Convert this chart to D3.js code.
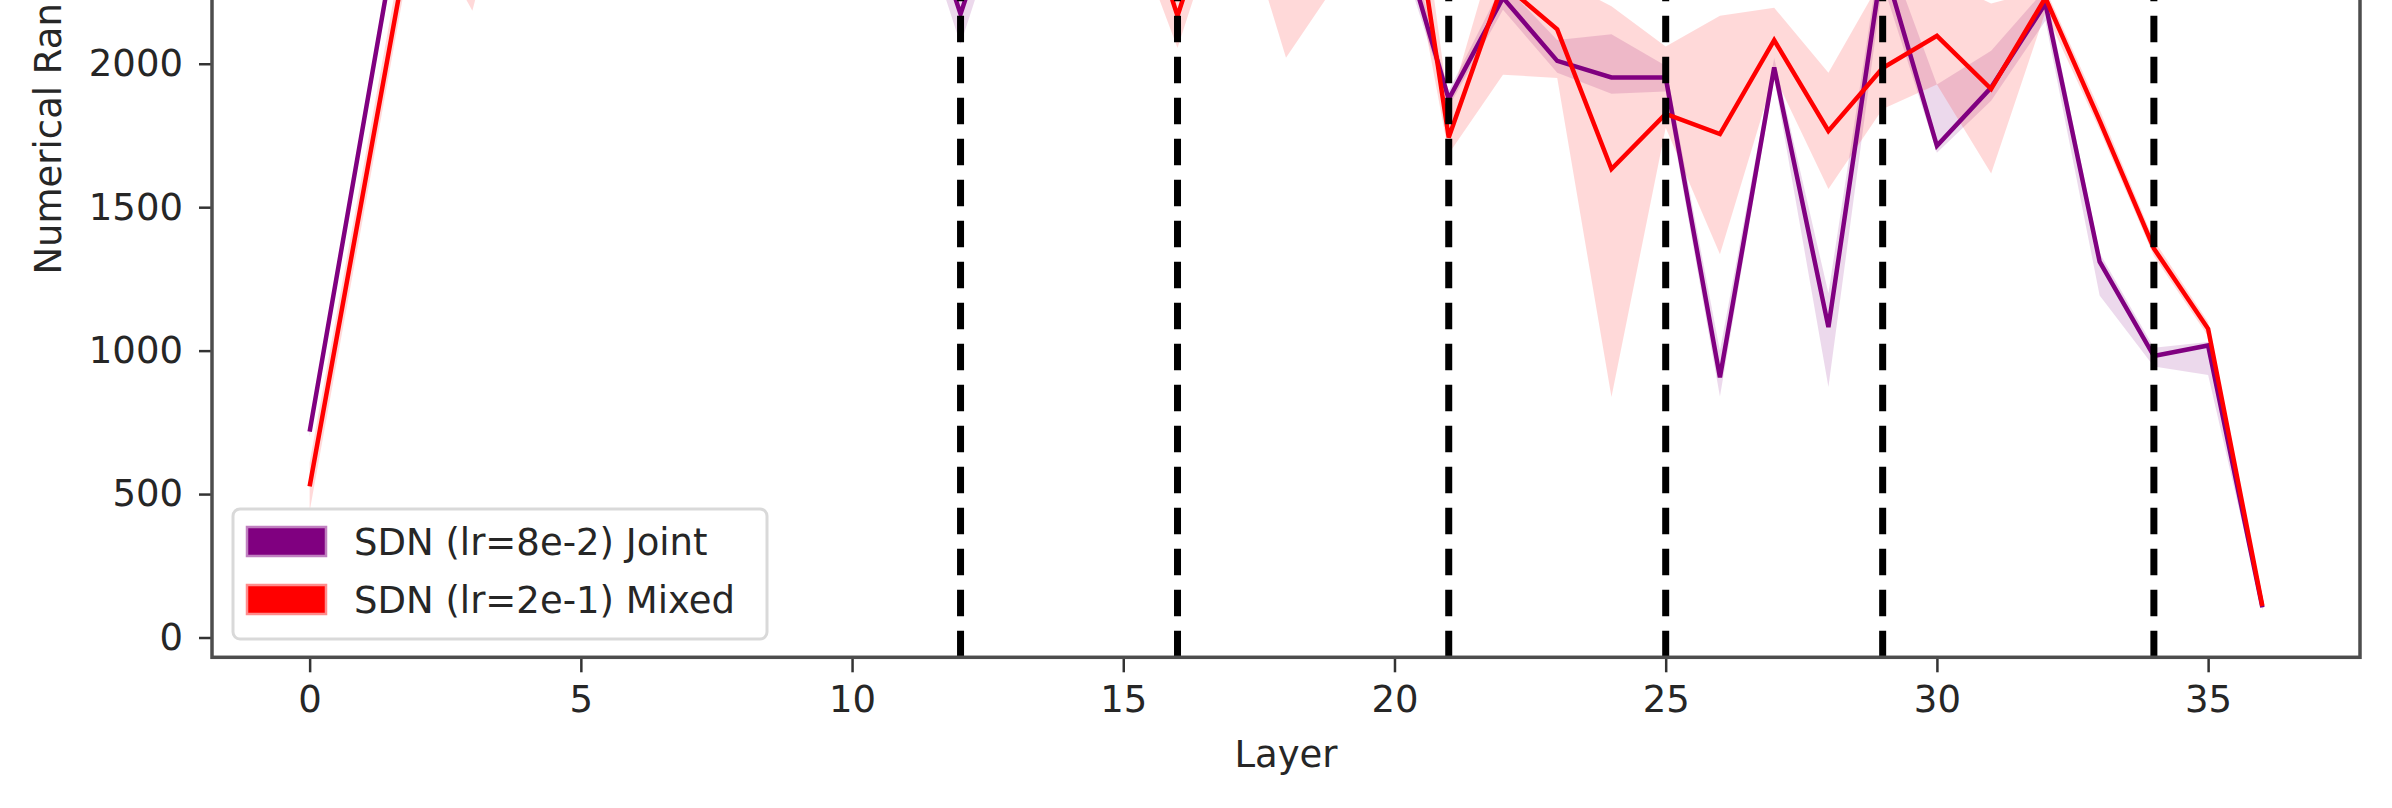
<!DOCTYPE html>
<html>
<head>
<meta charset="utf-8">
<script src="https://cdn.jsdelivr.net/npm/d3@7/dist/d3.min.js"></script>
<style>
  body { margin: 0; background: #fff; }
  svg { display: block; }
  text { font-family: "DejaVu Sans", sans-serif; fill: #262626; }
</style>
</head>
<body>
<div id="canvas"></div>
<script>
const canvWidth = 2392, canvHeight = 808;

// layer index 0..36
const layers = d3.range(0, 37);

// SDN (lr=8e-2) Joint
const jointMean = [718, 1800, 2880, 3150, 3250, 3300, 3320, 3330, 3300, 3250,
    3100, 2750, 2173, 2750, 3050, 3150, 3100, 3050, 2950, 2800,
    2520, 1877, 2230, 2010, 1952, 1952, 907, 1987, 1082, 2360,
    1714, 1917, 2210, 1310, 981, 1018, 105];
const jointLow = [700, 1770, 2830, 3080, 3170, 3220, 3240, 3250, 3220, 3170,
    3000, 2650, 2068, 2650, 2950, 3050, 3000, 2950, 2850, 2700,
    2450, 1850, 2188, 1969, 1895, 1903, 840, 1950, 873, 2280,
    1690, 1871, 2150, 1192, 945, 915, 95];
const jointHigh = [735, 1830, 2930, 3220, 3330, 3380, 3400, 3410, 3380, 3330,
    3200, 2850, 2280, 2850, 3150, 3250, 3200, 3150, 3050, 2900,
    2600, 1905, 2280, 2083, 2103, 1993, 1000, 2020, 1200, 2440,
    1928, 2045, 2260, 1340, 1010, 1030, 115];

// SDN (lr=2e-1) Mixed
const mixedMean = [527, 1565, 2603, 2950, 3150, 3250, 3300, 3280, 3250, 3200,
    3150, 3100, 3050, 3000, 2950, 2750, 2167, 2750, 2550, 2800,
    2996, 1743, 2280, 2120, 1633, 1825, 1755, 2082, 1766, 1985,
    2097, 1912, 2230, 1802, 1356, 1076, 110];
const mixedLow = [440, 1480, 2525, 2185, 2900, 3100, 3150, 3130, 3100, 3050,
    3000, 2950, 2900, 2850, 2800, 2560, 2055, 2640, 2021, 2300,
    2700, 1686, 1962, 1950, 838, 1777, 1336, 1960, 1563, 1842,
    1928, 1617, 2180, 1770, 1330, 1050, 95];
const mixedHigh = [610, 1650, 2700, 3450, 3400, 3400, 3450, 3430, 3400, 3350,
    3300, 3250, 3200, 3150, 3100, 2950, 2280, 2860, 3000, 3200,
    3250, 1850, 2500, 2300, 2200, 2060, 2167, 2195, 1969, 2300,
    2300, 2210, 2260, 1840, 1385, 1100, 125];

const splitLayers = [12, 16, 21, 25, 29, 34];
const xTicks = [0, 5, 10, 15, 20, 25, 30, 35];
const yTicks = [0, 500, 1000, 1500, 2000, 2500, 3000, 3500];

const series = [
    {name: "SDN (lr=8e-2) Joint", color: "#800080", edge: "#c080c0", mean: jointMean, low: jointLow, high: jointHigh},
    {name: "SDN (lr=2e-1) Mixed", color: "#ff0000", edge: "#ff8c8c", mean: mixedMean, low: mixedLow, high: mixedHigh}
];

const svg = d3.select("#canvas").append("svg")
    .attr("width", canvWidth)
    .attr("height", canvHeight);

svg.append("rect").attr("width", canvWidth).attr("height", canvHeight).attr("fill", "#fff");

// the axes box is taller than the picture, its top lies above the frame
const plot = {left: 212, right: 2360, top: -401, bottom: 657.3};

const x = d3.scaleLinear().domain([-1.8, 37.8]).range([plot.left, plot.right]);
const y = d3.scaleLinear().domain([-69, 3620]).range([plot.bottom, plot.top]);

// confidence bands
const band = d3.area()
    .x(function (d, i) { return x(layers[i]); });

series.forEach(function (s) {
    svg.append("path")
        .datum(s.mean)
        .attr("d", band
            .y0(function (d, i) { return y(s.low[i]); })
            .y1(function (d, i) { return y(s.high[i]); }))
        .attr("fill", s.color)
        .attr("fill-opacity", 0.15)
        .attr("stroke", "none");
});

// mean lines
const line = d3.line()
    .x(function (d, i) { return x(layers[i]); })
    .y(function (d) { return y(d); });

series.forEach(function (s) {
    svg.append("path")
        .datum(s.mean)
        .attr("d", line)
        .attr("fill", "none")
        .attr("stroke", s.color)
        .attr("stroke-width", 4.5)
        .attr("stroke-linejoin", "miter");
});

// split markers, dashes start at the bottom of the axes
svg.selectAll(".split")
    .data(splitLayers)
    .enter().append("line")
    .attr("class", "split")
    .attr("x1", function (d) { return x(d); })
    .attr("x2", function (d) { return x(d); })
    .attr("y1", plot.bottom)
    .attr("y2", plot.top)
    .attr("stroke", "#000")
    .attr("stroke-width", 7)
    .attr("stroke-dasharray", "26.5,14.5");

// axes
const xAxis = svg.append("g")
    .attr("transform", "translate(0," + plot.bottom + ")")
    .call(d3.axisBottom(x).tickValues(xTicks).tickFormat(d3.format("d"))
        .tickSize(15).tickPadding(13));

const yAxis = svg.append("g")
    .attr("transform", "translate(" + plot.left + ",0)")
    .call(d3.axisLeft(y).tickValues(yTicks).tickFormat(d3.format("d"))
        .tickSize(13).tickPadding(16));

[xAxis, yAxis].forEach(function (g) {
    g.select(".domain").remove();
    g.selectAll(".tick line").attr("stroke", "#333").attr("stroke-width", 2.5);
    g.selectAll(".tick text").attr("font-size", 37).attr("fill", "#262626")
        .attr("font-family", "DejaVu Sans");
});

// spines
svg.append("rect")
    .attr("x", plot.left)
    .attr("y", plot.top)
    .attr("width", plot.right - plot.left)
    .attr("height", plot.bottom - plot.top)
    .attr("fill", "none")
    .attr("stroke", "#4d4d4d")
    .attr("stroke-width", 3.5);

// axis labels
svg.append("text")
    .attr("x", (plot.left + plot.right) / 2)
    .attr("y", 767)
    .attr("text-anchor", "middle")
    .attr("font-size", 37)
    .text("Layer");

svg.append("text")
    .attr("transform", "translate(61," + ((plot.top + plot.bottom) / 2) + ") rotate(-90)")
    .attr("text-anchor", "middle")
    .attr("font-size", 37)
    .text("Numerical Rank");

// legend
const legend = svg.append("g").attr("transform", "translate(233,509)");

legend.append("rect")
    .attr("width", 534)
    .attr("height", 130)
    .attr("rx", 7)
    .attr("fill", "#fff")
    .attr("fill-opacity", 0.8)
    .attr("stroke", "#d9d9d9")
    .attr("stroke-width", 3);

const item = legend.selectAll(".item")
    .data(series)
    .enter().append("g")
    .attr("class", "item")
    .attr("transform", function (d, i) { return "translate(0," + (i * 58) + ")"; });

item.append("rect")
    .attr("x", 14)
    .attr("y", 18)
    .attr("width", 79)
    .attr("height", 29)
    .attr("fill", function (d) { return d.color; })
    .attr("stroke", function (d) { return d.edge; })
    .attr("stroke-width", 2.5);

item.append("text")
    .attr("x", 121)
    .attr("y", 46)
    .attr("font-size", 37)
    .text(function (d) { return d.name; });
</script>
</body>
</html>
